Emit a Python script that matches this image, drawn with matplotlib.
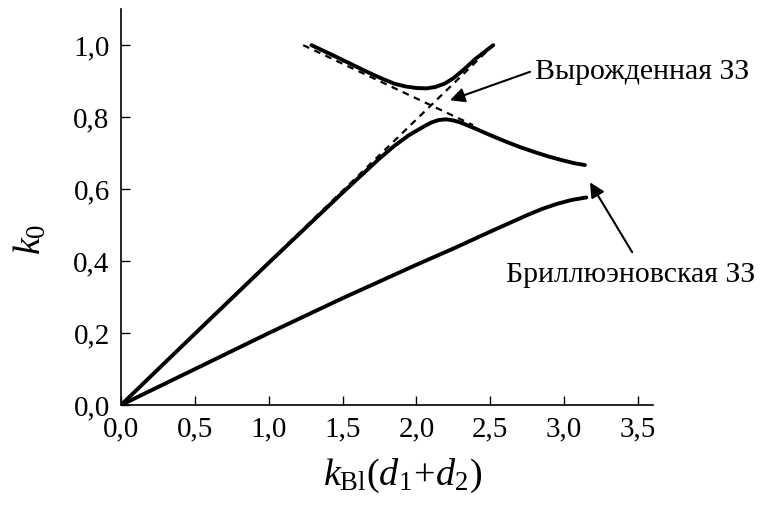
import numpy as np
import matplotlib
matplotlib.use('Agg')
import matplotlib.pyplot as plt

plt.rcParams['font.family'] = ['Liberation Serif', 'DejaVu Serif']
plt.rcParams['mathtext.fontset'] = 'custom'
plt.rcParams['mathtext.rm'] = 'Liberation Serif'
plt.rcParams['mathtext.it'] = 'Liberation Serif:italic'

# lower branch (Brillouin)
x_low = [0, 0.5, 1.0, 1.5, 2.0, 2.25, 2.5, 2.75, 2.85, 2.95, 3.05, 3.15]
y_low = [0, 0.1, 0.2, 0.297, 0.39, 0.435, 0.482, 0.528, 0.545, 0.559, 0.570, 0.577]

# middle branch
x_mid = [0, 0.5, 1.0, 1.5, 1.75, 1.85, 1.95, 2.05, 2.1, 2.15, 2.2, 2.25, 2.3, 2.4,
         2.5, 2.6, 2.7, 2.8, 2.9, 3.0, 3.07, 3.14]
y_mid = [0, 0.198, 0.395, 0.59, 0.685, 0.72, 0.75, 0.774, 0.785, 0.792, 0.794, 0.791, 0.785, 0.768,
         0.75, 0.733, 0.717, 0.703, 0.69, 0.679, 0.672, 0.667]

# upper branch
x_up = [1.29, 1.45, 1.64, 1.75, 1.85, 1.93, 2.0, 2.07, 2.13, 2.19, 2.25, 2.32, 2.4, 2.46, 2.52]
y_up = [1.0, 0.969, 0.931, 0.91, 0.893, 0.885, 0.881, 0.88, 0.884, 0.893, 0.908, 0.932, 0.962, 0.981, 1.0]

# dashed asymptotes
x_d1 = [0, 2.52]
y_d1 = [0, 1.0]
x_d2 = [1.234, 2.383]
y_d2 = [1.0, 0.778]

xticks = [0, 0.5, 1.0, 1.5, 2.0, 2.5, 3.0, 3.5]
yticks = [0, 0.2, 0.4, 0.6, 0.8, 1.0]

fig = plt.figure(figsize=(7.6, 5.09), dpi=100)
ax = fig.add_axes([0.159, 0.204, 0.7, 0.778])

ax.plot(x_d1, y_d1, color='k', lw=1.6, dashes=(3, 2.5))
ax.plot(x_d2, y_d2, color='k', lw=1.6, dashes=(3, 2.5))
for xs, ys in [(x_low, y_low), (x_mid, y_mid), (x_up, y_up)]:
  ax.plot(xs, ys, color='k', lw=2.8, solid_capstyle='round', solid_joinstyle='round')

ax.set_xlim(0, 3.6)
ax.set_ylim(0, 1.1)
ax.set_xticks(xticks)
ax.set_yticks(yticks)
ax.set_xticklabels([f'{t:.1f}'.replace('.', ',') for t in xticks])
ax.set_yticklabels([f'{t:.1f}'.replace('.', ',') for t in yticks])
ax.tick_params(direction='in', length=6.5, width=1, labelsize=21, pad=8)
ax.spines['top'].set_visible(False)
ax.spines['right'].set_visible(False)
for s in ['left', 'bottom']:
  ax.spines[s].set_linewidth(1.2)

ax.set_xlabel(r'$k_{\mathrm{Bl}}(d_1\!+\!d_2)$', fontsize=27.5)
ax.xaxis.set_label_coords(0.53, -0.13)
ax.set_ylabel(r'$k_0$', fontsize=27.5)
ax.yaxis.set_label_coords(-0.135, 0.42)

arrow = dict(arrowstyle='-|>', color='k', lw=1.5, mutation_scale=22, shrinkA=0, shrinkB=0)
ax.annotate('', xy=(2.227, 0.847), xytext=(2.769, 0.926), arrowprops=arrow)
ax.annotate('', xy=(3.175, 0.619), xytext=(3.46, 0.425), arrowprops=arrow)
ax.text(2.803, 0.906, 'Вырожденная ЗЗ', fontsize=21.5, va='baseline', ha='left')
ax.text(2.607, 0.342, 'Бриллюэновская ЗЗ', fontsize=21.5, va='baseline', ha='left')

fig.savefig('out.png', dpi=100, facecolor='white')
